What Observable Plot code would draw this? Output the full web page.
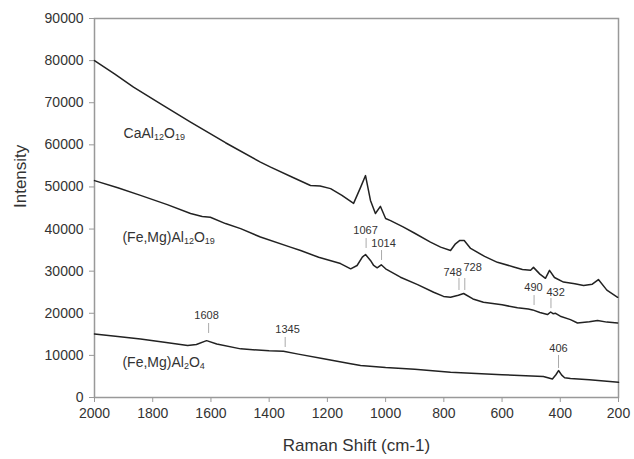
<!DOCTYPE html>
<html>
<head>
<meta charset="utf-8">
<script src="https://cdn.jsdelivr.net/npm/d3@7"></script>
<script src="https://cdn.jsdelivr.net/npm/@observablehq/plot@0.6"></script>
<style>
  html, body { margin: 0; padding: 0; background: #fff; }
</style>
</head>
<body>
<div id="chart"></div>
<script>
// ---- Data ----
const xTicks = [2000, 1800, 1600, 1400, 1200, 1000, 800, 600, 400, 200];
const yTicks = [0, 10000, 20000, 30000, 40000, 50000, 60000, 70000, 80000, 90000];

// CaAl12O19
const caShift = [2000, 1930, 1866, 1770, 1670, 1550, 1430, 1395, 1320, 1258, 1225, 1189, 1150, 1110, 1086, 1069, 1052, 1035, 1018, 1000, 983, 940, 900, 846, 811, 777, 760, 745, 730, 708, 660, 616, 560, 530, 502, 492, 470, 451, 437, 420, 389, 350, 320, 290, 269, 240, 203];
const caInt   = [80000, 76800, 73700, 69600, 65400, 60500, 55900, 54700, 52300, 50350, 50200, 49600, 48000, 46100, 49900, 52700, 46800, 43700, 45400, 42500, 42000, 40500, 39000, 36900, 35700, 34900, 36500, 37300, 37300, 35400, 33500, 32100, 31000, 30400, 30200, 30900, 29300, 28300, 30200, 28500, 27400, 27000, 26600, 26900, 28000, 25500, 23800];

// (Fe,Mg)Al12O19
const feShift = [2000, 1920, 1842, 1750, 1670, 1630, 1602, 1550, 1498, 1430, 1327, 1292, 1230, 1155, 1120, 1098, 1080, 1069, 1052, 1041, 1029, 1015, 1000, 949, 890, 835, 801, 777, 750, 732, 700, 664, 600, 547, 510, 495, 470, 444, 433, 425, 416, 400, 365, 341, 300, 272, 240, 203];
const feInt   = [51500, 49800, 48000, 45800, 43700, 43000, 42800, 41300, 40100, 38100, 35700, 34900, 33300, 31800, 30560, 31350, 33320, 33960, 32540, 31350, 30800, 31510, 30560, 28570, 26800, 25000, 24000, 23800, 24300, 24700, 23400, 22600, 22000, 21300, 21000, 20800, 20200, 19700, 20300, 19900, 20000, 19300, 18500, 17700, 18000, 18300, 17900, 17700];

// (Fe,Mg)Al2O4
const spShift = [2000, 1920, 1842, 1760, 1680, 1650, 1615, 1580, 1498, 1400, 1351, 1300, 1213, 1120, 1086, 1000, 900, 777, 600, 458, 427, 415, 406, 395, 385, 365, 300, 200];
const spInt   = [15100, 14500, 13900, 13100, 12350, 12600, 13500, 12700, 11550, 11100, 11000, 10300, 9200, 8000, 7600, 7100, 6700, 6000, 5400, 5000, 4400, 5400, 6400, 5300, 4700, 4500, 4200, 3600];

const seriesNames = ["CaAl12O19", "(Fe,Mg)Al12O19", "(Fe,Mg)Al2O4"];
const seriesLabelX = [1900, 1904, 1904];
const seriesLabelY = [62700, 38000, 8300];

// Peak annotations: peak shift, label text, label anchor and tick extent (data units)
const peakShift  = [1067, 1014, 748, 728, 490, 432, 1608, 1345, 406];
const peakLabel  = ["1067", "1014", "748", "728", "490", "432", "1608", "1345", "406"];
const peakTextX  = [1069, 1007, 770, 701, 492, 416, 1615, 1337, 406];
const peakTextY  = [39660, 36575, 29690, 30875, 26100, 24940, 19475, 16150, 11640];
const peakTickY1 = [37760, 34900, 28260, 28260, 24200, 23500, 17575, 14250, 9975];
const peakTickY2 = [35390, 32540, 25410, 25410, 21850, 21100, 15200, 11875, 6890];

// ---- Build tables ----
const toRows = (xs, ys, s) => xs.map((x, i) => ({shift: x, intensity: ys[i], series: s}));
const lines = [
  toRows(caShift, caInt, seriesNames[0]),
  toRows(feShift, feInt, seriesNames[1]),
  toRows(spShift, spInt, seriesNames[2])
].flat();
const seriesLabels = seriesNames.map((n, i) => ({name: n, x: seriesLabelX[i], y: seriesLabelY[i]}));
const peaks = peakShift.map((p, i) => ({
  shift: p, label: peakLabel[i], tx: peakTextX[i], ty: peakTextY[i], y1: peakTickY1[i], y2: peakTickY2[i]
}));

const chart = Plot.plot({
  width: 634,
  height: 459,
  marginLeft: 94,
  marginRight: 16,
  marginTop: 18,
  marginBottom: 62,
  x: {domain: [2000, 200]},
  y: {domain: [0, 90000]},
  style: {fontFamily: "'Liberation Sans', Arial, sans-serif", color: "#333", background: "#fff", overflow: "visible"},
  marks: [
    Plot.frame({stroke: "#999", strokeWidth: 1.5}),
    Plot.axisX({ticks: xTicks, tickSize: 5, tickPadding: 6, fontSize: 14, stroke: "#999", label: null, tickFormat: d3.format("d")}),
    Plot.axisY({ticks: yTicks, tickSize: 5, tickPadding: 6, fontSize: 14, stroke: "#999", label: null, tickFormat: d3.format("d")}),
    Plot.ruleX(peaks, {x: "shift", y1: "y1", y2: "y2", stroke: "#aaa", strokeWidth: 1}),
    Plot.text(peaks, {x: "tx", y: "ty", text: "label", fontSize: 11, fill: "#333"}),
    Plot.line(lines, {x: "shift", y: "intensity", z: "series", stroke: "#222", strokeWidth: 1.5, curve: "linear"}),
    Plot.text(seriesLabels, {x: "x", y: "y", text: "name", textAnchor: "start", fontSize: 14, fill: "#333", className: "formula"}),
    Plot.text(["Intensity"], {frameAnchor: "left", dx: -74, rotate: -90, fontSize: 17, fill: "#333"}),
    Plot.text(["Raman Shift (cm-1)"], {frameAnchor: "bottom", dy: 53, fontSize: 17, fill: "#333"})
  ]
});

// Render digits of chemical formulas as subscripts (kept as real text)
d3.select(chart).selectAll("g.formula text").each(function () {
  const t = this.textContent;
  const sel = d3.select(this);
  sel.text(null);
  let shifted = false;
  t.split(/(\d+)/).filter(s => s.length).forEach(part => {
    if (/^\d+$/.test(part)) {
      sel.append("tspan").attr("font-size", 9).attr("dy", shifted ? 0 : 2).text(part);
      shifted = true;
    } else {
      sel.append("tspan").attr("dy", shifted ? -2 : 0).text(part);
      shifted = false;
    }
  });
});

document.getElementById("chart").appendChild(chart);
</script>
</body>
</html>
